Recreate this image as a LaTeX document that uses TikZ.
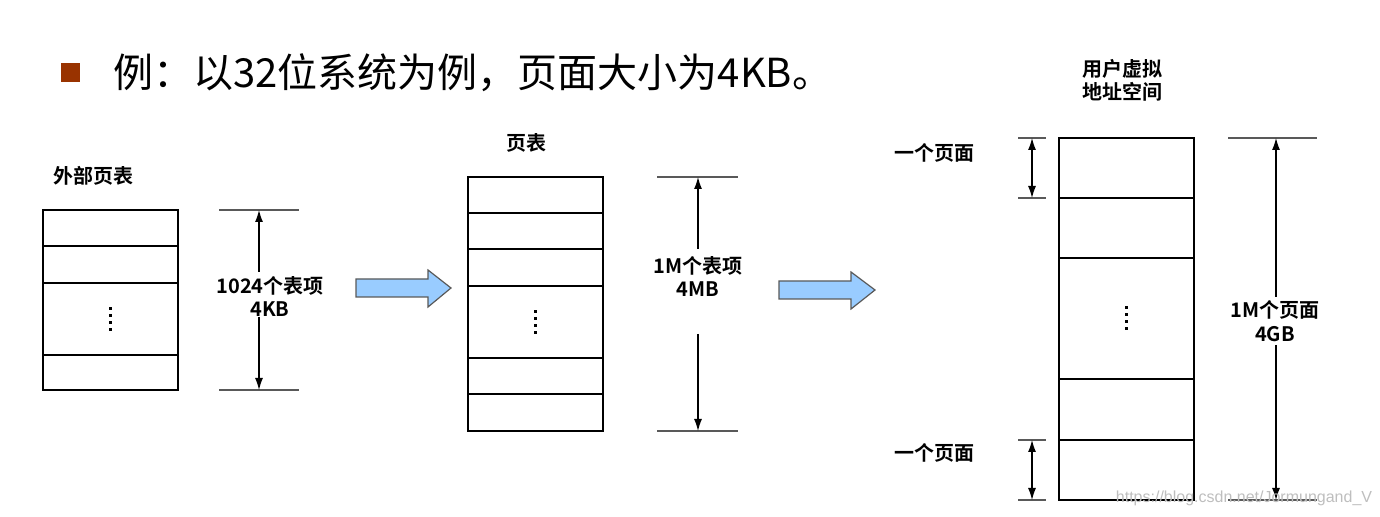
\documentclass[tikz,border=0pt]{standalone}
\usepackage{fontspec}
\setmainfont{Liberation Sans}
\newfontfamily\cjk{Noto Sans CJK SC}[BoldFont={Noto Sans CJK SC Bold}]
\usetikzlibrary{arrows.meta}
\definecolor{arrowblue}{RGB}{153,204,255}
\definecolor{bulletbrown}{RGB}{153,51,0}
\definecolor{wmgray}{RGB}{190,190,190}
\begin{document}
\begin{tikzpicture}[x=0.5pt,y=-0.5pt,
  cell/.style={draw=black, line width=0.65pt, minimum width=67.5pt, inner sep=0pt, outer sep=0pt},
  dimline/.style={draw=black!65, line width=0.6pt},
  dimarrow/.style={draw=black, line width=0.6pt, -{Latex[length=6pt,width=4pt]}},
  dimboth/.style={draw=black, line width=0.6pt, {Latex[length=6pt,width=4pt]}-{Latex[length=6pt,width=4pt]}},
  lab/.style={font=\cjk\bfseries\fontsize{10pt}{11.7pt}\selectfont, align=center, inner sep=0pt},
  blockarrow/.style={draw=black!65, fill=arrowblue, line width=0.6pt},
  dot/.style={fill=black}]
\useasboundingbox (0,0) rectangle (1380,517);

% title
\fill[bulletbrown] (61,63) rectangle (80,82);
\node[anchor=west, inner sep=0pt, font=\cjk\fontsize{20pt}{22pt}\selectfont] (title) at (113,73) {例：以32位系统为例，页面大小为4KB。};

% ---------- outer page table ----------
\node[lab] (lbl1) at (93,176) {外部页表};
\node[cell, minimum height=18pt]   (a1) at (110.5,228) {};
\node[cell, minimum height=18.5pt] (a2) at (110.5,264.5) {};
\node[cell, minimum height=36pt]   (a3) at (110.5,319) {};
\node[cell, minimum height=17.5pt] (a4) at (110.5,372.5) {};
\foreach \k in {-10.5,-3.5,3.5,10.5}
  \fill[dot] ([xshift=-0.75pt,yshift=-\k*0.5pt-0.75pt]a3.center) rectangle ++(1.5pt,1.5pt);

% dimension 1
\coordinate (d1t) at (259,210); \coordinate (d1b) at (259,390);
\coordinate (d1tl) at (219,210); \coordinate (d1tr) at (299,210);
\coordinate (d1bl) at (219,390); \coordinate (d1br) at (299,390);
\coordinate (d1u) at (259,272); \coordinate (d1v) at (259,317);
\draw[dimline] (d1tl) -- (d1tr);
\draw[dimline] (d1bl) -- (d1br);
\node[lab] (l1) at (270,296.5) {1024个表项\\4KB};
\draw[dimarrow] (d1u) -- (d1t);
\draw[dimarrow] (d1v) -- (d1b);

% block arrow 1
\draw[blockarrow] (356,279) -- (428,279) -- (428,270) -- (451,288) -- (428,307) -- (428,297) -- (356,297) -- cycle;

% ---------- page table ----------
\node[lab] (lbl2) at (526,143) {页表};
\node[cell, minimum height=18pt]   (b1) at (535.5,195) {};
\node[cell, minimum height=18pt]   (b2) at (535.5,231) {};
\node[cell, minimum height=18.5pt] (b3) at (535.5,267.5) {};
\node[cell, minimum height=36pt]   (b4) at (535.5,322) {};
\node[cell, minimum height=18pt]   (b5) at (535.5,376) {};
\node[cell, minimum height=18.5pt] (b6) at (535.5,412.5) {};
\foreach \k in {-10.5,-3.5,3.5,10.5}
  \fill[dot] ([xshift=-0.75pt,yshift=-\k*0.5pt-0.75pt]b4.center) rectangle ++(1.5pt,1.5pt);

% dimension 2
\coordinate (d2t) at (698,177); \coordinate (d2b) at (698,431);
\coordinate (d2tl) at (657,177); \coordinate (d2tr) at (738,177);
\coordinate (d2bl) at (657,431); \coordinate (d2br) at (738,431);
\coordinate (d2u) at (698,249); \coordinate (d2v) at (698,334);
\draw[dimline] (d2tl) -- (d2tr);
\draw[dimline] (d2bl) -- (d2br);
\node[lab] (l2) at (698,276.5) {1M个表项\\4MB};
\draw[dimarrow] (d2u) -- (d2t);
\draw[dimarrow] (d2v) -- (d2b);

% block arrow 2
\draw[blockarrow] (779,281) -- (851,281) -- (851,272) -- (875,290) -- (851,309) -- (851,299) -- (779,299) -- cycle;

% ---------- user virtual address space ----------
\node[lab] (lbl3) at (1122,80.5) {用户虚拟\\地址空间};
\node[cell, minimum height=30pt]   (c1) at (1126.5,168) {};
\node[cell, minimum height=30pt]   (c2) at (1126.5,228) {};
\node[cell, minimum height=60.5pt] (c3) at (1126.5,318.5) {};
\node[cell, minimum height=30.5pt] (c4) at (1126.5,409.5) {};
\node[cell, minimum height=30pt]   (c5) at (1126.5,470) {};
\foreach \k in {-10.5,-3.5,3.5,10.5}
  \fill[dot] ([xshift=-0.75pt,yshift=-\k*0.5pt-0.75pt]c3.center) rectangle ++(1.5pt,1.5pt);

% one page (top)
\coordinate (p1t) at (1032,138); \coordinate (p1b) at (1032,198);
\coordinate (p1tl) at (1018,138); \coordinate (p1tr) at (1046,138);
\coordinate (p1bl) at (1018,198); \coordinate (p1br) at (1046,198);
\draw[dimline] (p1tl) -- (p1tr);
\draw[dimline] (p1bl) -- (p1br);
\draw[dimboth] (p1t) -- (p1b);
\node[lab] (lp1) at (934,153) {一个页面};

% one page (bottom)
\coordinate (p2t) at (1032,440); \coordinate (p2b) at (1032,500);
\coordinate (p2tl) at (1018,440); \coordinate (p2tr) at (1046,440);
\coordinate (p2bl) at (1018,500); \coordinate (p2br) at (1046,500);
\draw[dimline] (p2tl) -- (p2tr);
\draw[dimline] (p2bl) -- (p2br);
\draw[dimboth] (p2t) -- (p2b);
\node[lab] (lp2) at (934,453) {一个页面};

% dimension 3
\coordinate (d3t) at (1276,138); \coordinate (d3b) at (1276,500);
\coordinate (d3tl) at (1228,138); \coordinate (d3tr) at (1317,138);
\coordinate (d3bl) at (1228,500); \coordinate (d3br) at (1317,500);
\coordinate (d3u) at (1276,297); \coordinate (d3v) at (1276,345);
\draw[dimline] (d3tl) -- (d3tr);
\draw[dimline] (d3bl) -- (d3br);
\node[lab] (l3) at (1275,321) {1M个页面\\4GB};
\draw[dimarrow] (d3u) -- (d3t);
\draw[dimarrow] (d3v) -- (d3b);

% watermark
\node[text=wmgray, font=\fontsize{8pt}{9pt}\selectfont, inner sep=0pt] (wm) at (1244,498) {https://blog.csdn.net/Jormungand\_V};
\end{tikzpicture}
\end{document}
